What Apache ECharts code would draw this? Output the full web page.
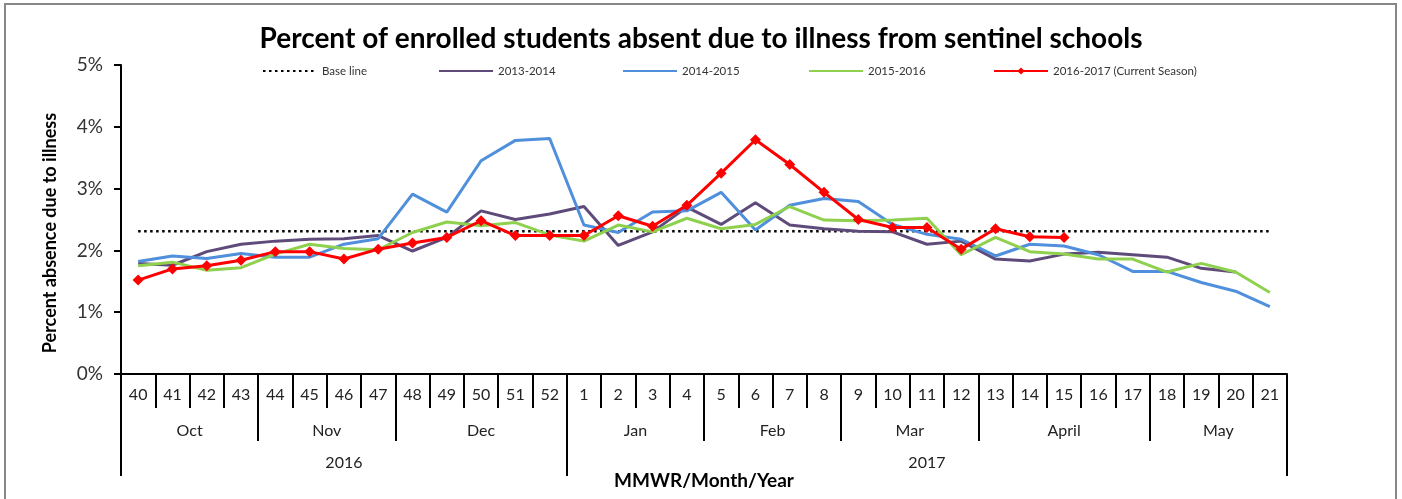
<!DOCTYPE html>
<html>
<head>
<meta charset="utf-8">
<script src="https://cdn.jsdelivr.net/npm/echarts@6/dist/echarts.min.js"></script>
<style>
html,body{margin:0;padding:0;background:#fff;}
#chart{width:1402px;height:499px;}
</style>
</head>
<body>
<div id="chart"></div>
<script>
// ---- data ----
var weeks = ['40','41','42','43','44','45','46','47','48','49','50','51','52',
             '1','2','3','4','5','6','7','8','9','10','11','12','13','14','15','16','17','18','19','20','21'];
var monthNames = ['Oct','Nov','Dec','Jan','Feb','Mar','April','May'];
var monthWeekCounts = [4,4,5,4,4,4,5,4];
var yearNames = ['2016','2017'];
var yearWeekCounts = [13,21];
var yTickLabels = ['0%','1%','2%','3%','4%','5%'];

var baseline = [2.31,2.31,2.31,2.31,2.31,2.31,2.31,2.31,2.31,2.31,2.31,2.31,2.31,
                2.31,2.31,2.31,2.31,2.31,2.31,2.31,2.31,2.31,2.31,2.31,2.31,2.31,2.31,2.31,2.31,2.31,2.31,2.31,2.31,2.31];
var s2013 = [1.79,1.76,1.98,2.10,2.15,2.18,2.19,2.24,1.99,2.21,2.64,2.50,2.59,
             2.71,2.08,2.30,2.70,2.42,2.77,2.41,2.35,2.31,2.30,2.10,2.15,1.86,1.83,1.94,1.97,1.93,1.89,1.71,1.65,null];
var s2014 = [1.82,1.91,1.87,1.95,1.89,1.89,2.10,2.19,2.91,2.62,3.45,3.78,3.81,
             2.41,2.29,2.62,2.64,2.94,2.33,2.73,2.84,2.79,2.42,2.26,2.18,1.91,2.10,2.07,1.93,1.66,1.66,1.48,1.34,1.09];
var s2015 = [1.75,1.81,1.68,1.72,1.94,2.10,2.03,2.01,2.29,2.46,2.40,2.45,2.25,
             2.15,2.41,2.30,2.52,2.35,2.42,2.71,2.49,2.48,2.49,2.52,1.93,2.21,1.98,1.94,1.86,1.86,1.65,1.79,1.65,1.32];
var s2016 = [1.52,1.70,1.75,1.84,1.98,1.98,1.86,2.02,2.12,2.21,2.48,2.24,2.24,
             2.24,2.56,2.39,2.73,3.25,3.79,3.39,2.94,2.50,2.37,2.37,2.02,2.35,2.22,2.21,null,null,null,null,null,null];
var seriesNames = ['Base line','2013-2014','2014-2015','2015-2016','2016-2017 (Current Season)'];

// ---- build tier axes on a half-week grid ----
function buildTier(names, counts) {
  var n = weeks.length * 2 + 1;
  var labels = [];
  for (var i = 0; i < n; i++) labels.push('');
  var boundaries = {0: true};
  var pos = 0;
  for (var k = 0; k < names.length; k++) {
    var center = pos * 2 + counts[k];
    labels[center] = names[k];
    pos += counts[k];
    boundaries[pos * 2] = true;
  }
  return {labels: labels, boundaries: boundaries};
}
var monthTier = buildTier(monthNames, monthWeekCounts);
var yearTier = buildTier(yearNames, yearWeekCounts);

var FONT = 'Lato';
var chart = echarts.init(document.getElementById('chart'), null, {renderer: 'canvas'});

function tierAxis(tier, tickLen, margin) {
  return {
    type: 'category',
    position: 'bottom',
    gridIndex: 0,
    data: tier.labels,
    boundaryGap: false,
    axisLine: {show: false},
    axisTick: {
      show: true, length: tickLen,
      interval: function (idx) { return !!tier.boundaries[idx]; },
      lineStyle: {color: '#000', width: 2}
    },
    axisLabel: {
      show: true, margin: margin, fontSize: 16, color: '#222', fontFamily: FONT,
      interval: function (idx) { return tier.labels[idx] !== ''; }
    },
    splitLine: {show: false}
  };
}

var colors = ['#000000', '#5F4B7A', '#4F8FDB', '#8FD14F', '#FF0000'];
var legendLefts = [262, 438, 622, 808, 993];

var option = {
  animation: false,
  backgroundColor: '#fff',
  title: {
    text: 'Percent of enrolled students absent due to illness from sentinel schools',
    left: 'center', top: 20,
    textStyle: {fontFamily: FONT, fontWeight: 'bold', fontSize: 28, color: '#000'}
  },
  legend: seriesNames.map(function (nm, i) {
    var lg = {
      data: [nm], left: legendLefts[i], top: 65, padding: 0,
      itemWidth: 54, itemHeight: 9, itemGap: 5,
      textStyle: {fontFamily: FONT, fontSize: 11.5, color: '#333'}
    };
    if (i < 4) lg.itemStyle = {opacity: 0};
    return lg;
  }),
  grid: {left: 121, right: 115, top: 65, bottom: 125, containLabel: false},
  xAxis: [
    {
      type: 'category',
      position: 'bottom',
      data: weeks,
      boundaryGap: true,
      axisLine: {show: true, lineStyle: {color: '#000', width: 2}},
      axisTick: {show: true, interval: 0, length: 34, lineStyle: {color: '#000', width: 2}},
      axisLabel: {interval: 0, margin: 13, fontSize: 16, color: '#222', fontFamily: FONT},
      splitLine: {show: false}
    },
    tierAxis(monthTier, 67, 49),
    tierAxis(yearTier, 102, 81)
  ],
  yAxis: {
    type: 'value', min: 0, max: 5, interval: 1,
    axisLine: {show: true, lineStyle: {color: '#000', width: 2}},
    axisTick: {show: true, length: 7, lineStyle: {color: '#000', width: 2}},
    axisLabel: {
      margin: 18, fontSize: 19, color: '#333', fontFamily: FONT,
      formatter: function (v) { return yTickLabels[Math.round(v)]; }
    },
    splitLine: {show: false}
  },
  graphic: [
    {
      type: 'rect', silent: true, z: -1,
      shape: {x: 5, y: 4, width: 1391, height: 520},
      style: {fill: 'none', stroke: '#888', lineWidth: 2}
    },
    {
      type: 'text', silent: true,
      x: 50, y: 233, rotation: Math.PI / 2,
      style: {
        text: 'Percent absence due to illness', fill: '#000',
        font: 'bold 18px ' + FONT, align: 'center', verticalAlign: 'middle'
      }
    },
    {
      type: 'text', silent: true,
      x: 704, y: 481,
      style: {
        text: 'MMWR/Month/Year', fill: '#000',
        font: 'bold 19px ' + FONT, align: 'center', verticalAlign: 'middle'
      }
    }
  ],
  series: [
    {name: seriesNames[0], type: 'line', data: baseline, symbol: 'none',
     lineStyle: {color: colors[0], width: 2.5, type: [2.5, 3.5]}, itemStyle: {color: colors[0]}, z: 2},
    {name: seriesNames[1], type: 'line', data: s2013, symbol: 'none',
     lineStyle: {color: colors[1], width: 3}, itemStyle: {color: colors[1]}, z: 3},
    {name: seriesNames[2], type: 'line', data: s2014, symbol: 'none',
     lineStyle: {color: colors[2], width: 3}, itemStyle: {color: colors[2]}, z: 3},
    {name: seriesNames[3], type: 'line', data: s2015, symbol: 'none',
     lineStyle: {color: colors[3], width: 3}, itemStyle: {color: colors[3]}, z: 3},
    {name: seriesNames[4], type: 'line', data: s2016, symbol: 'diamond', symbolSize: 11,
     lineStyle: {color: colors[4], width: 3}, itemStyle: {color: colors[4]}, z: 4}
  ]
};
chart.setOption(option);
</script>
</body>
</html>
